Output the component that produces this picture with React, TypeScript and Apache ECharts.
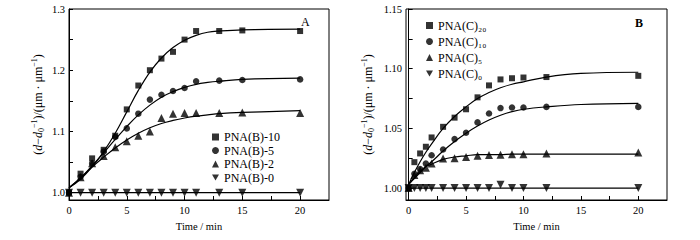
import React, { useEffect, useRef } from "react";
import * as echarts from "echarts";

// ---------- Panel A data ----------
const timeA = [0, 1, 2, 3, 4, 5, 6, 7, 8, 9, 10, 11, 13, 15, 20];
const pnaB10 = [1.0, 1.031, 1.056, 1.07, 1.093, 1.136, 1.175, 1.2, 1.219, 1.23, 1.25, 1.264, 1.264, 1.265, 1.264];
const pnaB5 = [1.0, 1.026, 1.048, 1.067, 1.091, 1.105, 1.129, 1.152, 1.16, 1.166, 1.171, 1.182, 1.183, 1.184, 1.185];
const pnaB2 = [1.0, 1.025, 1.048, 1.06, 1.074, 1.084, 1.093, 1.1, 1.122, 1.129, 1.13, 1.13, 1.13, 1.131, 1.13];
const pnaB0 = [1.0, 1.0, 1.0, 1.0, 1.0, 1.0, 1.0, 1.0, 1.0, 1.0, 1.0, 1.0, 1.0, 1.0, 1.0];

const fitTimeA = [0, 1, 2, 3, 4, 5, 6, 7, 8, 9, 10, 11, 12, 13, 15, 20];
const fitB10 = [1.008, 1.022, 1.042, 1.067, 1.097, 1.132, 1.167, 1.197, 1.22, 1.237, 1.249, 1.257, 1.262, 1.264, 1.266, 1.267];
const fitB5 = [1.008, 1.024, 1.044, 1.065, 1.087, 1.108, 1.127, 1.143, 1.156, 1.165, 1.172, 1.177, 1.18, 1.182, 1.185, 1.187];
const fitB2 = [1.008, 1.024, 1.042, 1.058, 1.073, 1.086, 1.097, 1.106, 1.113, 1.118, 1.122, 1.125, 1.127, 1.129, 1.131, 1.134];
const fitB0 = [1.0, 1.0, 1.0, 1.0, 1.0, 1.0, 1.0, 1.0, 1.0, 1.0, 1.0, 1.0, 1.0, 1.0, 1.0, 1.0];

// ---------- Panel B data ----------
const timeB = [0, 0.5, 1, 1.5, 2, 3, 4, 5, 6, 7, 8, 9, 10, 12, 20];
const pnaC20 = [1.0, 1.0217, 1.029, 1.0346, 1.0424, 1.0513, 1.059, 1.066, 1.076, 1.086, 1.091, 1.092, 1.0926, 1.093, 1.094];
const pnaC10 = [1.0, 1.012, 1.016, 1.0205, 1.0275, 1.0323, 1.041, 1.0463, 1.055, 1.0625, 1.067, 1.0675, 1.0675, 1.068, 1.068];
const pnaC5 = [1.0, 1.011, 1.015, 1.017, 1.0205, 1.0247, 1.025, 1.026, 1.027, 1.0276, 1.028, 1.0284, 1.0284, 1.029, 1.0298];
const pnaC0 = [1.0, 1.0, 1.0, 1.0, 1.0, 1.0, 1.0, 1.0, 1.0, 1.0, 1.0028, 1.0, 1.0, 1.0, 1.0];

const fitTimeB = [0, 0.5, 1, 1.5, 2, 3, 4, 5, 6, 7, 8, 9, 10, 12, 15, 20];
const fitC20 = [1.003, 1.013, 1.022, 1.03, 1.037, 1.05, 1.06, 1.068, 1.075, 1.08, 1.084, 1.087, 1.089, 1.093, 1.096, 1.097];
const fitC10 = [1.003, 1.008, 1.013, 1.018, 1.022, 1.031, 1.039, 1.046, 1.052, 1.057, 1.061, 1.064, 1.066, 1.068, 1.07, 1.071];
const fitC5 = [1.003, 1.009, 1.014, 1.018, 1.02, 1.024, 1.026, 1.027, 1.028, 1.028, 1.028, 1.0285, 1.0285, 1.0285, 1.0285, 1.0285];
const fitC0 = [1.0, 1.0, 1.0, 1.0, 1.0, 1.0, 1.0, 1.0, 1.0, 1.0, 1.0, 1.0, 1.0, 1.0, 1.0, 1.0];

// ---------- ticks ----------
const xLabelsAB = [0, 5, 10, 15, 20];
const xTicksAB = [0, 2.5, 5, 7.5, 10, 12.5, 15, 17.5, 20];
const yLabelsA = [1.0, 1.1, 1.2, 1.3];
const yTicksA = [1.0, 1.05, 1.1, 1.15, 1.2, 1.25, 1.3];
const yLabelsB = [1.0, 1.05, 1.1, 1.15];
const yTicksB = [1.0, 1.025, 1.05, 1.075, 1.1, 1.125, 1.15];

const namesA = ["PNA(B)-10", "PNA(B)-5", "PNA(B)-2", "PNA(B)-0"];
const namesB = ["PNA(C)₂₀", "PNA(C)₁₀", "PNA(C)₅", "PNA(C)₀"];

const FONT = "'Liberation Serif', 'Times New Roman', serif";
const DOWN = "path://M0,0 L10,0 L5,8.66 Z";
const symbols = ["rect", "circle", "triangle", DOWN];
const symSizes = [6, 6.5, 8, 8];

const zip = (xs: number[], ys: number[]) => xs.map((x, i) => [x, ys[i]]);

export default function App() {
  const ref = useRef<HTMLDivElement>(null);
  useEffect(() => {
    if (!ref.current) return;
    const chart = echarts.init(ref.current, undefined, { renderer: "svg" });

    const yName = "({i|d}−{i|d}{sub|0}{sup|−1})/(μm · μm{sup|−1})";
    const yNameStyle = {
      fontFamily: FONT,
      fontSize: 12,
      color: "#000",
      lineHeight: 15,
      rich: {
        i: { fontStyle: "italic", fontFamily: FONT, fontSize: 12, color: "#000" },
        sub: { fontFamily: FONT, fontSize: 8, color: "#000", verticalAlign: "bottom" },
        sup: { fontFamily: FONT, fontSize: 8, color: "#000", verticalAlign: "top" },
      },
    };

    const mkX = (gi: number, min: number) => ({
      type: "value",
      gridIndex: gi,
      min,
      max: 22.5,
      name: "Time / min",
      nameLocation: "middle",
      nameGap: 16,
      nameTextStyle: { fontFamily: FONT, fontSize: 10.5, color: "#000" },
      axisLine: { show: true, lineStyle: { color: "#000", width: 1 } },
      axisTick: { show: true, inside: true, length: 4, customValues: xTicksAB, lineStyle: { color: "#000" } },
      axisLabel: { customValues: xLabelsAB, fontFamily: FONT, fontSize: 10.5, color: "#000", margin: 5 },
      splitLine: { show: false },
    });

    const mkY = (gi: number, min: number, max: number, labels: number[], ticks: number[], dec: number, gap: number) => ({
      type: "value",
      gridIndex: gi,
      min,
      max,
      name: yName,
      nameLocation: "middle",
      nameRotate: 90,
      nameGap: gap,
      nameTextStyle: yNameStyle,
      axisLine: { show: true, lineStyle: { color: "#000", width: 1 } },
      axisTick: { show: true, inside: true, length: 4, customValues: ticks, lineStyle: { color: "#000" } },
      axisLabel: {
        customValues: labels,
        fontFamily: FONT,
        fontSize: 10.5,
        color: "#000",
        margin: 4,
        formatter: (v: number) => v.toFixed(dec),
      },
      splitLine: { show: false },
    });

    const series: any[] = [];
    const ptsA = [pnaB10, pnaB5, pnaB2, pnaB0];
    const fitsA = [fitB10, fitB5, fitB2, fitB0];
    const ptsB = [pnaC20, pnaC10, pnaC5, pnaC0];
    const fitsB = [fitC20, fitC10, fitC5, fitC0];

    fitsA.forEach((f, i) =>
      series.push({
        name: "fitA" + i,
        type: "line",
        xAxisIndex: 0,
        yAxisIndex: 0,
        data: zip(fitTimeA, f),
        smooth: 0.4,
        showSymbol: false,
        lineStyle: { color: "#000", width: 1.2 },
        z: 2,
      })
    );
    fitsB.forEach((f, i) =>
      series.push({
        name: "fitB" + i,
        type: "line",
        xAxisIndex: 1,
        yAxisIndex: 1,
        data: zip(fitTimeB, f),
        smooth: 0.4,
        showSymbol: false,
        lineStyle: { color: "#000", width: 1.2 },
        z: 2,
      })
    );
    ptsA.forEach((p, i) =>
      series.push({
        name: namesA[i],
        type: "scatter",
        xAxisIndex: 0,
        yAxisIndex: 0,
        data: zip(timeA, p),
        symbol: symbols[i],
        symbolSize: symSizes[i],
        itemStyle: { color: "#000" },
        z: 3,
      })
    );
    ptsB.forEach((p, i) =>
      series.push({
        name: namesB[i],
        type: "scatter",
        xAxisIndex: 1,
        yAxisIndex: 1,
        data: zip(timeB, p),
        symbol: symbols[i],
        symbolSize: symSizes[i],
        itemStyle: { color: "#000" },
        z: 3,
      })
    );

    const legendText = { fontFamily: FONT, fontSize: 12, color: "#000", lineHeight: 12 };

    chart.setOption({
      animation: false,
      backgroundColor: "#fff",
      grid: [
        { left: 69, top: 9, width: 260, height: 191, show: true, borderColor: "#000", borderWidth: 1, backgroundColor: "transparent" },
        { left: 406, top: 9, width: 261, height: 191, show: true, borderColor: "#000", borderWidth: 1, backgroundColor: "transparent" },
      ],
      xAxis: [mkX(0, 0), mkX(1, -0.23)],
      yAxis: [
        mkY(0, 0.988, 1.3, yLabelsA, yTicksA, 1, 24),
        mkY(1, 0.99, 1.15, yLabelsB, yTicksB, 2, 31),
      ],
      legend: [
        {
          data: namesA,
          orient: "vertical",
          left: 207,
          top: 126,
          itemWidth: 7,
          itemHeight: 7,
          itemGap: 1.5,
          textStyle: legendText,
          selectedMode: false,
        },
        {
          data: namesB,
          orient: "vertical",
          left: 421,
          top: 14.5,
          itemWidth: 7,
          itemHeight: 7,
          itemGap: 4,
          textStyle: legendText,
          selectedMode: false,
        },
      ],
      graphic: [
        { type: "text", left: 301, top: 16, style: { text: "A", fontFamily: FONT, fontSize: 12, fill: "#000" } },
        { type: "text", left: 635, top: 17, style: { text: "B", fontFamily: FONT, fontSize: 12, fontWeight: "bold", fill: "#000" } },
      ],
      series,
    });
    return () => chart.dispose();
  }, []);
  return <div ref={ref} style={{ position: "fixed", left: 0, top: 0, width: 700, height: 240 }} />;
}
